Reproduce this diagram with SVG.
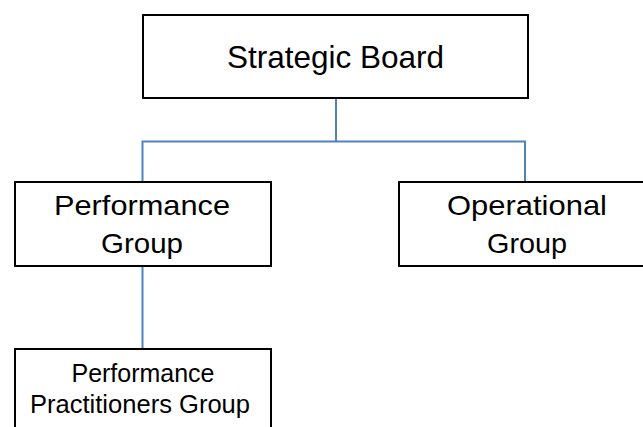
<svg xmlns="http://www.w3.org/2000/svg" width="643" height="427" viewBox="0 0 643 427">
<style>
.box{fill:#fff;stroke:#000;stroke-width:2}
.conn{fill:none;stroke:#4f81bd;stroke-width:2}
text{font-family:"Liberation Sans",Arial,sans-serif;fill:#000;text-anchor:middle}
</style>
<rect width="643" height="427" fill="#fff"/>
<g id="connectors">
<path class="conn" d="M336 98 V141.5 M142.5 182 V141.5 H525 V182 M142.5 266 V349"/>
</g>
<g id="strategic-board">
<rect class="box" x="143" y="15" width="385" height="83"/>
<text x="335.5" y="68" font-size="31.5">Strategic Board</text>
</g>
<g id="performance-group">
<rect class="box" x="15" y="182" width="256" height="84"/>
<text x="142" y="215" font-size="28" textLength="176" lengthAdjust="spacingAndGlyphs">Performance</text>
<text x="142" y="253" font-size="28" textLength="82" lengthAdjust="spacingAndGlyphs">Group</text>
</g>
<g id="operational-group">
<rect class="box" x="399" y="182" width="256" height="84"/>
<text x="527" y="215" font-size="28" textLength="160" lengthAdjust="spacingAndGlyphs">Operational</text>
<text x="527" y="253" font-size="28" textLength="80" lengthAdjust="spacingAndGlyphs">Group</text>
</g>
<g id="performance-practitioners-group">
<rect class="box" x="15" y="349" width="256" height="100"/>
<text x="143" y="381.5" font-size="25" textLength="143" lengthAdjust="spacingAndGlyphs">Performance</text>
<text x="140" y="412.5" font-size="25" textLength="220" lengthAdjust="spacingAndGlyphs">Practitioners Group</text>
</g>
</svg>
